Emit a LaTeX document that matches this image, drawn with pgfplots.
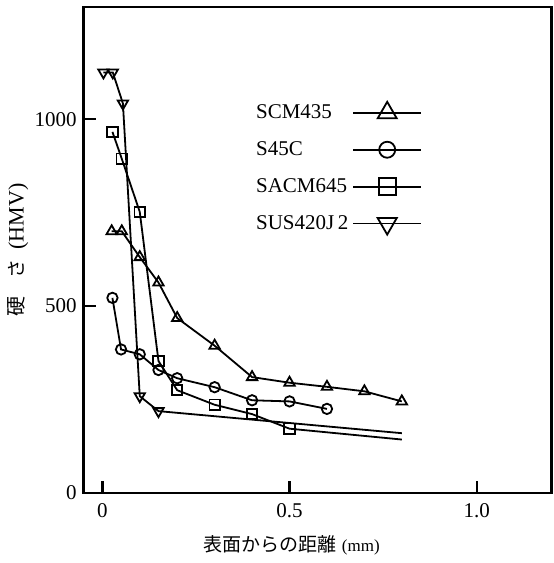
\documentclass[border=0pt]{standalone}
\usepackage{fontspec}
\setmainfont{Liberation Serif}
\newfontfamily\cjk{Noto Sans CJK JP}
\usepackage{pgfplots}
\pgfplotsset{compat=1.18}
\begin{document}
\begin{tikzpicture}
\useasboundingbox (-41.8pt,-35pt) rectangle (234.7pt,246.5pt);
\begin{axis}[
  at={(0,0)}, anchor=south west,
  scale only axis, width=234pt, height=243pt,
  xmin=-0.05, xmax=1.2, ymin=0, ymax=1300,
  xtick={0,0.5,1}, xticklabels={0,0.5,1.0},
  ytick={0,500,1000}, yticklabels={0,500,1000},
  tick align=inside, xtick pos=left, ytick pos=left,
  major tick length=6pt,
  every tick/.style={black, line width=1.2pt},
  axis line style={line width=1.2pt},
  tick label style={font=\fontsize{10.5}{12}\selectfont},
  xticklabel style={yshift=-1.5pt},
  /pgf/number format/assume math mode=true,
  every axis x label/.style={at={(axis description cs:0.445,0)}, yshift=-26pt, anchor=center},
  every axis y label/.style={at={(axis description cs:0,0.5)}, xshift=-32.8pt, rotate=90, anchor=center},
  xlabel={{\cjk\fontsize{9.5}{11}\selectfont 表面からの距離}\ {\fontsize{8.5}{10}\selectfont (mm)}},
  ylabel={{\cjk\fontsize{10}{11}\selectfont 硬}\hspace{9pt}{\cjk\fontsize{9.5}{11}\selectfont さ}\hspace{5pt}{\fontsize{11}{12}\selectfont (HMV)}},
  legend plot pos=right,
  legend cell align=left,
  legend style={at={(axis cs:0.383,1062)}, anchor=north west, draw=none, fill=none,
    row sep=6pt, font=\fontsize{10.5}{12}\selectfont},
  legend image code/.code={\draw[mark repeat=2,mark phase=2,#1] plot coordinates {(0pt,0pt) (17pt,0pt) (34pt,0pt)};},
  every axis plot/.append style={black, line width=0.9pt, mark options={solid, fill=white, line width=0.9pt}},
]
% SCM435
\addplot[mark=triangle, mark size=3pt, forget plot] coordinates {
(0.025,700) (0.052,700) (0.1,631) (0.15,563) (0.2,468) (0.3,394) (0.4,310) (0.5,295) (0.6,284) (0.7,272) (0.8,245)};
% S45C
\addplot[mark=o, mark size=2.6pt, forget plot] coordinates {
(0.027,522) (0.05,384) (0.1,371) (0.15,329) (0.2,307) (0.3,283) (0.4,248) (0.5,245) (0.6,225)};
% SACM645
\addplot[mark=square, mark size=2.6pt, mark indices={1,2,3,4,5,6,7,8}, forget plot] coordinates {
(0.027,966) (0.052,894) (0.1,752) (0.15,353) (0.2,275) (0.3,236) (0.4,211) (0.5,172) (0.8,143)};
% SUS420J2
\addplot[mark=triangle, mark options={rotate=180}, mark size=3pt, mark indices={1,2,3,4,5}, forget plot] coordinates {
(0.003,1125) (0.028,1125) (0.055,1042) (0.1,259) (0.15,219) (0.8,160)};
\addlegendimage{mark=triangle, mark size=5.5pt}
\addlegendentry{SCM435}
\addlegendimage{mark=o, mark size=4pt}
\addlegendentry{S45C}
\addlegendimage{mark=square, mark size=4.3pt}
\addlegendentry{SACM645}
\addlegendimage{mark=triangle, mark options={rotate=180}, mark size=5.5pt}
\addlegendentry{SUS420J\,2}
\end{axis}
\end{tikzpicture}
\end{document}
